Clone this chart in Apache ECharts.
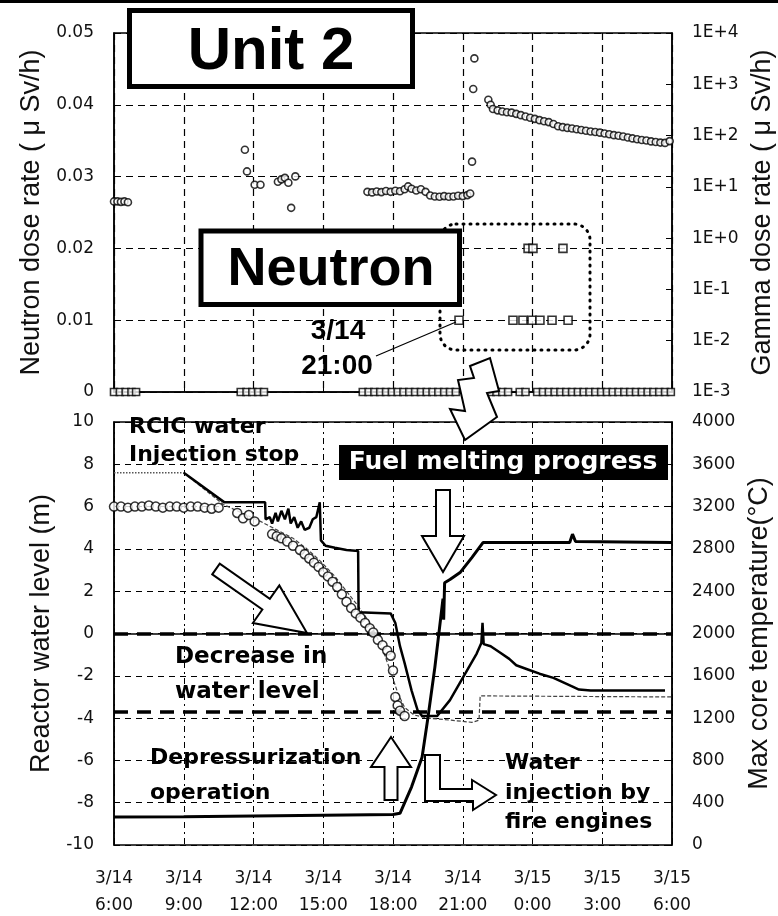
<!DOCTYPE html>
<html>
<head>
<meta charset="utf-8">
<script src="https://cdn.jsdelivr.net/npm/echarts@6/dist/echarts.min.js"></script>
<style>
html, body { margin: 0; padding: 0; background: #fff; }
#main { width: 778px; height: 916px; }
</style>
</head>
<body>
<div id="main"></div>
<script>
// time is in hours counted from 3/14 0:00 (so 24 = 3/15 0:00)

// top panel: gamma dose rate (uSv/h, log axis) - open circles
var gammaHours = [6.0, 6.15, 6.3, 6.45, 6.6,
  11.63, 11.72, 12.05, 12.3,
  13.05, 13.2, 13.35, 13.5, 13.62, 13.8,
  16.9, 17.1, 17.3, 17.5, 17.7, 17.9, 18.1, 18.3, 18.5, 18.65, 18.8, 19.0, 19.2, 19.4, 19.6, 19.8, 20.0, 20.2, 20.4, 20.6, 20.8, 21.0, 21.2, 21.32,
  21.4, 21.45, 21.5,
  22.1, 22.2, 22.3, 22.5, 22.7, 22.9, 23.1, 23.3, 23.5, 23.7, 23.9, 24.1, 24.3, 24.5, 24.7, 24.9, 25.1, 25.3, 25.5, 25.7, 25.9,
  26.1, 26.3, 26.5, 26.7, 26.9, 27.1, 27.3, 27.5, 27.7, 27.9, 28.1, 28.3, 28.5, 28.7, 28.9, 29.1, 29.3, 29.5, 29.7, 29.9];
var gammaRates = [5.2, 5.2, 5.1, 5.2, 5.0,
  53, 20, 11, 11,
  12.6, 14, 15, 12, 3.9, 16,
  8.0, 7.8, 8.1, 7.9, 8.3, 8.0, 8.4, 8.2, 9.0, 10.2, 9.2, 8.5, 9.0, 8.0, 6.8, 6.5, 6.4, 6.6, 6.4, 6.5, 6.7, 6.6, 6.9, 7.4,
  31, 810, 3200,
  500, 400, 330, 310, 295, 285, 280, 265, 250, 235, 223, 212, 200, 190, 183, 168, 152, 146, 141, 137, 133,
  128, 124, 120, 117, 114, 110, 106, 102, 99, 96, 92, 88, 85, 82, 80, 77, 75, 73, 72, 78];

// top panel: neutron dose rate (uSv/h) - open squares
var neutronZeroHours = [6.0, 6.25, 6.5, 6.75, 6.95, 11.45, 11.7, 11.95, 12.2, 12.45,
  16.7, 16.95, 17.2, 17.45, 17.7, 17.95, 18.2, 18.45, 18.7, 18.95, 19.2, 19.45, 19.7, 19.95, 20.2, 20.45, 20.7,
  21.2, 21.45, 21.7, 21.95, 22.2, 22.45, 22.7, 22.95, 23.45, 23.7, 24.2, 24.45, 24.7, 24.95, 25.2, 25.45, 25.7, 25.95,
  26.2, 26.45, 26.7, 26.95, 27.2, 27.45, 27.7, 27.95, 28.2, 28.45, 28.7, 28.95, 29.2, 29.45, 29.7, 29.95];
var neutronHitHours = [20.84, 23.16, 23.59, 23.81, 23.98, 24.02, 24.32, 24.84, 25.31, 25.53];
var neutronHitRates = [0.01, 0.01, 0.01, 0.02, 0.01, 0.02, 0.01, 0.01, 0.02, 0.01];

// bottom panel: measured reactor water level (m) - open circles
var levelHours = [6.0, 6.3, 6.6, 6.9, 7.2, 7.5, 7.8, 8.1, 8.4, 8.7, 9.0, 9.3, 9.6, 9.9, 10.2, 10.5,
  11.3, 11.55, 11.8, 12.05,
  12.8, 13.0, 13.2, 13.45, 13.7, 14.0, 14.2, 14.4, 14.6, 14.8, 15.0, 15.2, 15.4, 15.6, 15.8, 16.0, 16.2, 16.4, 16.6, 16.8,
  17.0, 17.15, 17.35, 17.55, 17.75, 17.9, 18.0, 18.1, 18.2, 18.3, 18.5];
var levelValues = [6.0, 6.0, 5.95, 6.0, 6.0, 6.05, 6.0, 5.95, 6.0, 6.0, 5.95, 6.0, 6.0, 5.95, 5.9, 5.95,
  5.7, 5.45, 5.6, 5.3,
  4.7, 4.6, 4.5, 4.35, 4.15, 3.95, 3.75, 3.55, 3.35, 3.15, 2.9, 2.7, 2.45, 2.2, 1.85, 1.5, 1.2, 0.95, 0.75, 0.5,
  0.25, 0.05, -0.3, -0.55, -0.8, -1.05, -1.75, -3.0, -3.4, -3.65, -3.9];

// bottom panel: water level before RCIC stop (thin dotted)
var rcicHours = [6.0, 9.0];
var rcicLevels = [7.6, 7.6];

// bottom panel: second water level trace (thin line)
var gaugeHours = [9.0, 10.7, 11.5, 12.3, 13.0, 13.7, 14.3, 14.9, 15.5, 16.0, 16.5, 17.0, 17.5, 17.9, 18.2, 18.5, 18.9, 19.5, 20.5, 21.4, 21.7, 21.75, 30.0];
var gaugeLevels = [7.6, 6.1, 5.7, 5.3, 4.9, 4.5, 4.0, 3.4, 2.7, 2.0, 1.3, 0.5, -0.6, -1.8, -2.8, -3.5, -3.85, -4.0, -4.1, -4.2, -4.1, -2.95, -3.0];

// bottom panel: water level trace (thick black)
var wideHours = [9.0, 10.75, 12.5, 12.52, 12.7, 12.8, 12.95, 13.05, 13.2, 13.35, 13.5, 13.6, 13.75, 13.9, 14.05, 14.2, 14.4, 14.55, 14.7, 14.85,
  14.9, 15.1, 15.5, 16.0, 16.5, 16.52, 17.9, 18.1, 18.3, 18.5, 18.8, 19.05, 19.25, 19.9, 20.45, 21.0, 21.6, 21.8, 21.85, 21.9,
  22.2, 22.6, 23.0, 23.3, 23.8, 24.3, 24.9, 25.3, 25.7, 26.0, 26.5, 29.7];
var wideLevels = [7.6, 6.2, 6.2, 5.4, 5.5, 5.2, 5.7, 5.3, 5.8, 5.4, 5.9, 5.2, 5.5, 5.0, 5.3, 4.9, 5.0, 5.4, 5.5, 6.2,
  4.4, 4.15, 4.05, 3.95, 3.9, 1.0, 0.95, 0.5, -0.6, -1.4, -2.7, -3.6, -3.9, -3.9, -3.15, -2.1, -0.95, -0.45, 0.5, -0.5,
  -0.6, -0.9, -1.2, -1.5, -1.7, -1.9, -2.1, -2.3, -2.5, -2.65, -2.7, -2.7];

// bottom panel: max core temperature (deg C, right axis)
var tempHours = [6.0, 9.0, 12.0, 15.0, 18.0, 18.3, 18.8, 19.25, 19.5, 19.8, 20.15, 20.18, 20.22, 20.45, 20.9, 21.4, 21.87, 25.6, 25.72, 25.85, 30.0];
var tempValues = [265, 268, 275, 282, 288, 300, 550, 830, 1200, 1680, 2330, 2130, 2480, 2510, 2580, 2720, 2860, 2860, 2940, 2870, 2860];

// fuel range reference levels (m)
var refLevels = [0, -3.7];

function pairs(xs, ys) {
  return xs.map(function (x, i) { return [x, ys[i]]; });
}

function arrow(x1, y1, x2, y2, sw, hw, hl) {
  var dx = x2 - x1, dy = y2 - y1, len = Math.sqrt(dx * dx + dy * dy);
  var ux = dx / len, uy = dy / len, nx = -uy, ny = ux;
  var bx = x2 - ux * hl, by = y2 - uy * hl;
  return [
    [x1 + nx * sw / 2, y1 + ny * sw / 2],
    [bx + nx * sw / 2, by + ny * sw / 2],
    [bx + nx * hw / 2, by + ny * hw / 2],
    [x2, y2],
    [bx - nx * hw / 2, by - ny * hw / 2],
    [bx - nx * sw / 2, by - ny * sw / 2],
    [x1 - nx * sw / 2, y1 - ny * sw / 2]
  ];
}

var chart = echarts.init(document.getElementById('main'));

var tickText = { fontFamily: 'DejaVu Sans', fontSize: 17, color: '#111' };
var nameText = { fontFamily: 'Liberation Sans', fontSize: 27, color: '#111' };
var axisBlack = { lineStyle: { color: '#000', width: 1.5 } };

function boldText(x, y, txt, size, align) {
  return {
    type: 'text', x: x, y: y, z: 120,
    style: {
      text: txt, font: 'bold ' + size + 'px "DejaVu Sans"', fill: '#000',
      align: align || 'left', verticalAlign: 'middle',
      textAlign: align || 'left', textVerticalAlign: 'middle'
    }
  };
}

function hollow(points) {
  return { type: 'polygon', z: 110, shape: { points: points }, style: { fill: '#fff', stroke: '#000', lineWidth: 2 } };
}

var option = {
  backgroundColor: '#fff',
  animation: false,
  grid: [
    { left: 114, top: 33, width: 558, height: 359, show: true, borderColor: '#000', borderWidth: 1.5, outerBoundsMode: 'none' },
    { left: 114, top: 422, width: 558, height: 423, show: true, borderColor: '#000', borderWidth: 1.5, outerBoundsMode: 'none' }
  ],
  xAxis: [
    {
      type: 'value', gridIndex: 0, min: 6, max: 30, interval: 3,
      axisLine: axisBlack, axisTick: { inside: true, length: 5, lineStyle: { color: '#000' } },
      axisLabel: { show: false },
      splitLine: { show: true, lineStyle: { color: '#000', type: [7, 5], width: 1.2 } }
    },
    {
      type: 'value', gridIndex: 1, min: 6, max: 30, interval: 3,
      axisLine: axisBlack, axisTick: { inside: true, length: 5, lineStyle: { color: '#000' } },
      axisLabel: {
        fontFamily: 'DejaVu Sans', fontSize: 17, color: '#111', margin: 20, lineHeight: 27,
        formatter: function (v) { return (v < 24 ? '3/14' : '3/15') + '\n' + (v % 24) + ':00'; }
      },
      splitLine: { show: true, lineStyle: { color: '#000', type: [6, 4, 2, 4], width: 1 } }
    }
  ],
  yAxis: [
    {
      type: 'value', gridIndex: 0, position: 'left', min: 0, max: 0.05, interval: 0.01,
      name: 'Neutron dose rate ( \u03bc Sv/h)', nameLocation: 'middle', nameGap: 68, nameRotate: 90,
      nameTextStyle: nameText,
      axisLine: { show: true, lineStyle: { color: '#000', width: 1.5 } }, axisTick: { show: false },
      axisLabel: Object.assign({ margin: 20, formatter: function (v) { return v === 0 ? '0' : v.toFixed(2); } }, tickText),
      splitLine: { show: true, lineStyle: { color: '#000', type: [7, 5], width: 1.2 } }
    },
    {
      type: 'log', gridIndex: 0, position: 'right', min: 0.001, max: 10000, logBase: 10, splitNumber: 7,
      name: 'Gamma dose rate ( \u03bc Sv/h)', nameLocation: 'middle', nameGap: 72, nameRotate: 90,
      nameTextStyle: nameText,
      axisLine: { show: true, lineStyle: { color: '#000', width: 1.5 } },
      axisTick: { show: true, inside: true, length: 6, lineStyle: { color: '#000' } },
      axisLabel: Object.assign({
        margin: 20,
        formatter: function (v) {
          var e = Math.round(Math.log(v) / Math.LN10);
          return '1E' + (e >= 0 ? '+' : '-') + Math.abs(e);
        }
      }, tickText),
      splitLine: { show: false }
    },
    {
      type: 'value', gridIndex: 1, position: 'left', min: -10, max: 10, interval: 2,
      name: 'Reactor water level (m)', nameLocation: 'middle', nameGap: 54, nameRotate: 90,
      nameTextStyle: nameText,
      axisLine: { show: true, lineStyle: { color: '#000', width: 1.5 } }, axisTick: { show: false },
      axisLabel: Object.assign({ margin: 20 }, tickText),
      splitLine: { show: true, lineStyle: { color: '#000', type: [6, 5], width: 1 } }
    },
    {
      type: 'value', gridIndex: 1, position: 'right', min: 0, max: 4000, interval: 400,
      name: 'Max core temperature(\u00b0C)', nameLocation: 'middle', nameGap: 72, nameRotate: 90,
      nameTextStyle: nameText,
      axisLine: { show: true, lineStyle: { color: '#000', width: 1.5 } },
      axisTick: { show: true, inside: true, length: 6, lineStyle: { color: '#000' } },
      axisLabel: Object.assign({ margin: 20, formatter: function (v) { return String(v); } }, tickText),
      splitLine: { show: false }
    }
  ],
  series: [
    {
      name: 'Gamma', type: 'scatter', xAxisIndex: 0, yAxisIndex: 1, z: 5,
      symbol: 'circle', symbolSize: 7,
      itemStyle: { color: '#fff', borderColor: '#000', borderWidth: 1.6 },
      data: pairs(gammaHours, gammaRates)
    },
    {
      name: 'Neutron zero', type: 'scatter', xAxisIndex: 0, yAxisIndex: 0, z: 5,
      symbol: 'rect', symbolSize: [7, 7],
      itemStyle: { color: '#fff', borderColor: '#000', borderWidth: 1.6 },
      data: neutronZeroHours.map(function (h) { return [h, 0]; })
    },
    {
      name: 'Neutron', type: 'scatter', xAxisIndex: 0, yAxisIndex: 0, z: 5,
      symbol: 'rect', symbolSize: [8, 8],
      itemStyle: { color: '#fff', borderColor: '#000', borderWidth: 1.6 },
      data: pairs(neutronHitHours, neutronHitRates)
    },
    {
      name: 'RCIC level', type: 'line', xAxisIndex: 1, yAxisIndex: 2, z: 3,
      symbol: 'none', lineStyle: { color: '#555', width: 1.5, type: 'dotted' },
      data: pairs(rcicHours, rcicLevels)
    },
    {
      name: 'Level gauge', type: 'line', xAxisIndex: 1, yAxisIndex: 2, z: 3,
      symbol: 'none', lineStyle: { color: '#444', width: 1.2, type: [4, 2] },
      data: pairs(gaugeHours, gaugeLevels)
    },
    {
      name: 'Level wide', type: 'line', xAxisIndex: 1, yAxisIndex: 2, z: 4,
      symbol: 'none', lineStyle: { color: '#000', width: 2.5 },
      data: pairs(wideHours, wideLevels),
      markLine: {
        silent: true, symbol: 'none', label: { show: false },
        lineStyle: { color: '#000', width: 3.5, type: [14, 9] },
        data: refLevels.map(function (v) { return { yAxis: v }; })
      }
    },
    {
      name: 'Temperature', type: 'line', xAxisIndex: 1, yAxisIndex: 3, z: 4,
      symbol: 'none', lineStyle: { color: '#000', width: 3 },
      data: pairs(tempHours, tempValues)
    },
    {
      name: 'Water level', type: 'scatter', xAxisIndex: 1, yAxisIndex: 2, z: 6,
      symbol: 'circle', symbolSize: 9,
      itemStyle: { color: '#fff', borderColor: '#000', borderWidth: 1.5 },
      data: pairs(levelHours, levelValues)
    }
  ],
  graphic: [
    { type: 'rect', z: 100, shape: { x: 0, y: 0, width: 778, height: 3 }, style: { fill: '#000' } },
    // dotted box round the neutron detections
    { type: 'rect', z: 100, shape: { x: 440, y: 224, width: 150, height: 126, r: 16 },
      style: { fill: 'none', stroke: '#000', lineWidth: 3, lineDash: [1, 6], lineCap: 'round' } },
    // Unit 2 label
    { type: 'rect', z: 105, shape: { x: 129.5, y: 10.5, width: 283, height: 76 },
      style: { fill: '#fff', stroke: '#000', lineWidth: 5 } },
    { type: 'text', z: 106, x: 271, y: 52,
      style: { text: 'Unit 2', font: 'bold 60px "Liberation Sans"', fill: '#000',
        align: 'center', verticalAlign: 'middle', textAlign: 'center', textVerticalAlign: 'middle' } },
    // Neutron label
    { type: 'rect', z: 105, shape: { x: 201, y: 231, width: 258.5, height: 73.5 },
      style: { fill: '#fff', stroke: '#000', lineWidth: 5 } },
    { type: 'text', z: 106, x: 331, y: 270,
      style: { text: 'Neutron', font: 'bold 54px "Liberation Sans"', fill: '#000',
        align: 'center', verticalAlign: 'middle', textAlign: 'center', textVerticalAlign: 'middle' } },
    // 3/14 21:00 callout
    { type: 'line', z: 104, shape: { x1: 376, y1: 356, x2: 456, y2: 322 }, style: { stroke: '#000', lineWidth: 1.2 } },
    { type: 'text', z: 106, x: 338, y: 331,
      style: { text: '3/14', font: 'bold 28px "Liberation Sans"', fill: '#000',
        align: 'center', verticalAlign: 'middle', textAlign: 'center', textVerticalAlign: 'middle' } },
    { type: 'text', z: 106, x: 337, y: 366,
      style: { text: '21:00', font: 'bold 28px "Liberation Sans"', fill: '#000',
        align: 'center', verticalAlign: 'middle', textAlign: 'center', textVerticalAlign: 'middle' } },
    // zigzag arrow towards fuel melting
    hollow([[470, 366], [490, 358], [499, 391], [487, 393], [497, 417], [465, 440], [450, 409], [465, 411], [458, 380], [474, 378]]),
    // Fuel melting progress
    { type: 'rect', z: 105, shape: { x: 339, y: 445, width: 329, height: 35 }, style: { fill: '#000' } },
    { type: 'text', z: 106, x: 503, y: 462,
      style: { text: 'Fuel melting progress', font: 'bold 25px "DejaVu Sans"', fill: '#fff',
        align: 'center', verticalAlign: 'middle', textAlign: 'center', textVerticalAlign: 'middle' } },
    hollow(arrow(443, 490, 443, 572, 14, 42, 36)),
    boldText(129, 427, 'RCIC water', 22),
    boldText(129, 455, 'Injection stop', 22),
    hollow(arrow(216, 569, 307, 633, 13, 46, 50)),
    boldText(175, 657, 'Decrease in', 23),
    boldText(175, 692, 'water level', 23),
    hollow(arrow(391, 800, 391, 737, 13, 40, 30)),
    boldText(150, 758, 'Depressurization', 22),
    boldText(150, 793, 'operation', 22),
    hollow([[425, 755], [440, 755], [440, 789], [472, 789], [472, 780], [496, 795], [473, 810], [473, 801], [425, 801]]),
    boldText(505, 763, 'Water', 22),
    boldText(505, 793, 'injection by', 22),
    boldText(505, 822, 'fire engines', 22)
  ]
};

chart.setOption(option);
</script>
</body>
</html>
